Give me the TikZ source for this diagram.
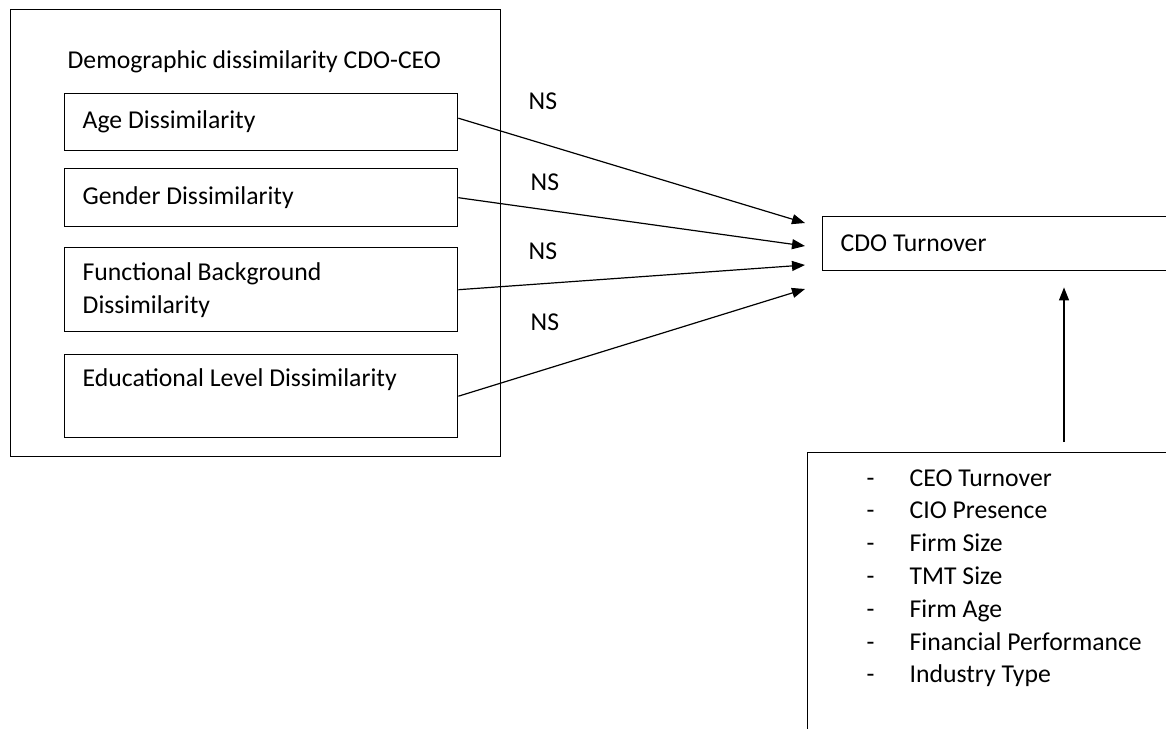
\documentclass[tikz,border=0pt]{standalone}
\usepackage{fontspec}
\setmainfont{Carlito}
\usetikzlibrary{arrows.meta}

\tikzset{every picture/.style={line width=1.3pt}}
\tikzset{
  dbox/.style={draw, rectangle, anchor=north west, inner xsep=18pt, inner ysep=0pt, align=flush left, line width=1.4pt},
  arr/.style={-{Triangle[length=13pt,width=10pt]}, line width=1.2pt},
  lbl/.style={anchor=base west, inner sep=0pt}
}

\begin{document}
\begin{tikzpicture}[x=1pt,y=1pt,yscale=-1,xscale=1,font=\fontsize{25.7}{33}\selectfont]
	\useasboundingbox (0,0) rectangle (1166,728);
	\clip (0,0) rectangle (1166,728);

	%Outer group box
	\node [dbox, minimum width=490, minimum height=447] (demo) at (10,9) {};
	% Text Node
	\node [lbl] (demotitle) at (67,68) {Demographic dissimilarity CDO-CEO};

	%Dissimilarity boxes
	\node [dbox, minimum width=393, minimum height=57, text width=357] (age) at (64,93) {Age Dissimilarity};
	\node [dbox, minimum width=393, minimum height=58, text width=357] (gender) at (64,168) {Gender Dissimilarity};
	\node [dbox, minimum width=393, minimum height=84, text width=357] (func) at (64,247) {Functional Background\\Dissimilarity};
	\node [dbox, minimum width=393, minimum height=83, text width=357] (edu) at (64,354) {Educational Level Dissimilarity\\[-6pt] \strut};

	%Outcome box
	\node [dbox, minimum width=380, minimum height=54, text width=344] (cdo) at (822,216) {CDO Turnover};

	%Controls box
	\node [dbox, minimum width=420, minimum height=320] (ctrl) at (807,452) {};
	\foreach \ctrlname [count=\i from 0] in {CEO Turnover, CIO Presence, Firm Size, TMT Size, Firm Age, Financial Performance, Industry Type} {
		\node [lbl] (dash\i) at (866,486+32.8*\i) {-};
		\node [lbl] (ctrlitem\i) at (909,486+32.8*\i) {\ctrlname};
	}

	% Text Node
	\node [lbl] (ns1) at (528,109) {NS};
	% Text Node
	\node [lbl] (ns2) at (530,190) {NS};
	% Text Node
	\node [lbl] (ns3) at (528,259) {NS};
	% Text Node
	\node [lbl] (ns4) at (530,330) {NS};

	%Arrow tips
	\coordinate (tip1) at (805,223);
	\coordinate (tip2) at (805,246);
	\coordinate (tip3) at (805,265);
	\coordinate (tip4) at (805,289);
	\coordinate (upx) at (1064,0);

	%Straight Lines
	\draw [arr] ([yshift=-4pt]age.east) -- (tip1);
	\draw [arr] (gender.east) -- (tip2);
	\draw [arr] (func.east) -- (tip3);
	\draw [arr] (edu.east) -- (tip4);
	%Straight Lines
	\draw [arr, shorten <=10pt, shorten >=16pt] (ctrl.north -| upx) -- (cdo.south -| upx);
\end{tikzpicture}
\end{document}
